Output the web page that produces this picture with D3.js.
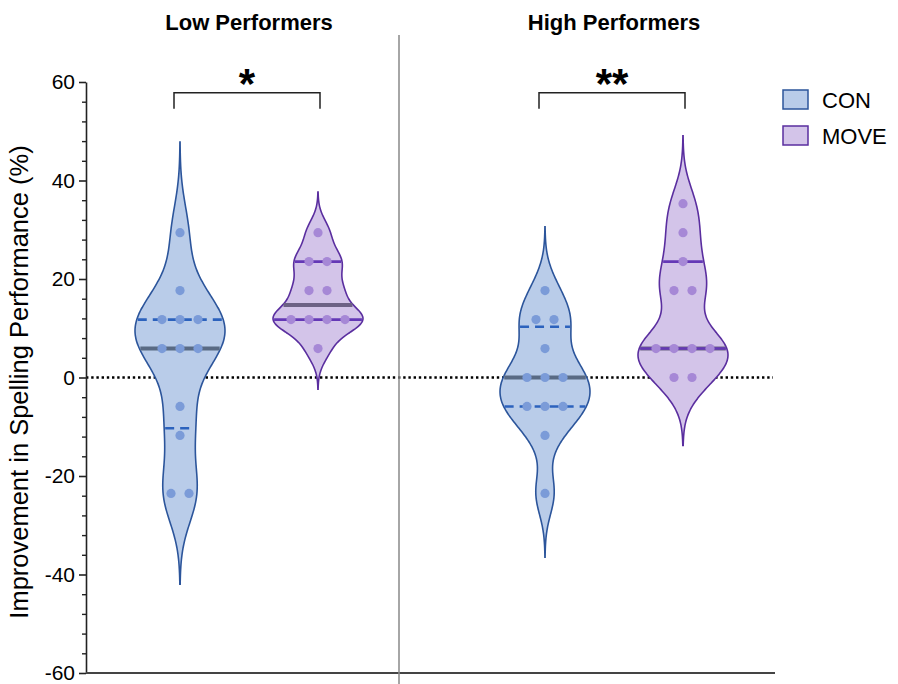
<!DOCTYPE html>
<html>
<head>
<meta charset="utf-8">
<script src="https://cdn.jsdelivr.net/npm/d3@7/dist/d3.min.js"></script>
<style>
  body { margin: 0; background: #fff; }
  svg { display: block; font-family: "Liberation Sans", Arial, sans-serif; }
</style>
</head>
<body>
<div id="chart"></div>
<script>
// ---- data ----
const groups = ['Low Performers', 'High Performers'];
const conditions = ['CON', 'MOVE'];
const significance = ['*', '**'];
const yTicks = [-60, -40, -20, 0, 20, 40, 60];

const lowCon   = [29.41, 17.65, 11.76, 11.76, 11.76, 5.88, 5.88, 5.88, -5.88, -11.76, -23.53, -23.53];
const lowMove  = [29.41, 23.53, 23.53, 17.65, 17.65, 11.76, 11.76, 11.76, 11.76, 5.88];
const highCon  = [17.65, 11.76, 11.76, 5.88, 0, 0, 0, -5.88, -5.88, -5.88, -11.76, -23.53];
const highMove = [35.29, 29.41, 23.53, 17.65, 17.65, 5.88, 5.88, 5.88, 5.88, 0, 0];

const series = [
  { group: groups[0], cond: 'CON',  values: lowCon },
  { group: groups[0], cond: 'MOVE', values: lowMove },
  { group: groups[1], cond: 'CON',  values: highCon },
  { group: groups[1], cond: 'MOVE', values: highMove },
];

const STYLE = {
  CON:  { fill: '#b9cce9', stroke: '#2c559b', dot: '#7b9bd8', quart: '#2c62bd', median: '#596a84', dash: '9,6' },
  MOVE: { fill: '#d3c4e9', stroke: '#5a2e9f', dot: '#a688d6', quart: '#6438b6', median: '#6d6285', dash: null },
};

const width = 898, height = 684;
const plot = { left: 86, right: 775, top: 82, bottom: 673 };
const HALF_WIDTH = 45;   // max half-width of every violin
const DOT_STEP = 18;     // horizontal spacing of tied dots

const svg = d3.select('#chart').append('svg')
  .attr('width', width)
  .attr('height', height);

const y = d3.scaleLinear().domain([-60, 60]).range([plot.bottom, plot.top]);
const xGroup = d3.scalePoint().domain(groups).range([249, 614]);
const xCond = d3.scalePoint().domain(conditions).range([-69, 69]);
const cx = d => xGroup(d.group) + xCond(d.cond);

// quartiles the GraphPad way: position (n+1)p
function quantileN1(sorted, p) {
  const n = sorted.length;
  const pos = (n + 1) * p;
  const lo = Math.floor(pos);
  if (lo < 1) return sorted[0];
  if (lo >= n) return sorted[n - 1];
  return sorted[lo - 1] + (pos - lo) * (sorted[lo] - sorted[lo - 1]);
}

function gauss(u) { return Math.exp(-0.5 * u * u); }

function buildViolin(s) {
  const vals = s.values.slice().sort((a, b) => a - b);
  const h = 0.38 * d3.deviation(vals);
  const dens = v => d3.sum(vals, d => gauss((v - d) / h));
  const lo = vals[0] - 3 * h, hi = vals[vals.length - 1] + 3 * h;
  const pts = d3.range(0, 201).map(i => {
    const v = lo + (hi - lo) * i / 200;
    return [v, dens(v)];
  });
  const maxD = d3.max(pts, p => p[1]);
  const w = d3.scaleLinear().domain([0, maxD]).range([0, HALF_WIDTH]);
  return {
    pts, w, dens,
    median: quantileN1(vals, 0.5),
    q1: quantileN1(vals, 0.25),
    q3: quantileN1(vals, 0.75),
  };
}

// ---- zero reference line ----
svg.append('line')
  .attr('x1', plot.left).attr('x2', 773)
  .attr('y1', y(0)).attr('y2', y(0))
  .attr('stroke', '#000')
  .attr('stroke-width', 2.6)
  .attr('stroke-dasharray', '2.4,2.8');

// ---- violins ----
series.forEach(s => {
  const st = STYLE[s.cond];
  const v = buildViolin(s);
  const x0 = cx(s);
  const g = svg.append('g');

  const area = d3.area()
    .curve(d3.curveBasis)
    .y(p => y(p[0]))
    .x0(p => x0 - v.w(p[1]))
    .x1(p => x0 + v.w(p[1]));

  g.append('path')
    .datum(v.pts)
    .attr('d', area)
    .attr('fill', st.fill)
    .attr('stroke', st.stroke)
    .attr('stroke-width', 1.6);

  const hLine = (val, color, sw, dash) => {
    const hw = v.w(v.dens(val)) - 1;
    g.append('line')
      .attr('x1', x0 - hw).attr('x2', x0 + hw)
      .attr('y1', y(val)).attr('y2', y(val))
      .attr('stroke', color)
      .attr('stroke-width', sw)
      .attr('stroke-dasharray', dash);
  };
  hLine(v.median, st.median, 4, null);
  hLine(v.q1, st.quart, 2.6, st.dash);
  hLine(v.q3, st.quart, 2.6, st.dash);

  // dots, ties spread horizontally
  const counts = d3.rollup(s.values, a => a.length, d => d);
  const dots = [];
  counts.forEach((k, val) => {
    for (let i = 0; i < k; i++) dots.push({ val, off: (i - (k - 1) / 2) * DOT_STEP });
  });
  g.selectAll('circle')
    .data(dots)
    .enter().append('circle')
    .attr('cx', d => x0 + d.off)
    .attr('cy', d => y(d.val))
    .attr('r', 4.6)
    .attr('fill', st.dot);
});

// ---- axes ----
const minorTicks = d3.range(-60, 61, 4).filter(t => t % 20 !== 0);
svg.append('g')
  .attr('transform', `translate(${plot.left},0)`)
  .call(d3.axisLeft(y).tickValues(minorTicks).tickSize(4).tickFormat(''))
  .call(g => g.select('.domain').remove())
  .call(g => g.selectAll('line').attr('stroke', '#222').attr('stroke-width', 1.4));

svg.append('g')
  .attr('transform', `translate(${plot.left},0)`)
  .call(d3.axisLeft(y).tickValues(yTicks).tickSize(7).tickSizeOuter(0).tickPadding(4)
    .tickFormat(d => String(d)))
  .call(g => g.select('.domain').attr('stroke', '#222').attr('stroke-width', 1.6))
  .call(g => g.selectAll('line').attr('stroke', '#222').attr('stroke-width', 1.6))
  .call(g => g.selectAll('text')
    .attr('font-size', 21)
    .attr('fill', '#000')
    .attr('font-family', '"Liberation Sans", Arial, sans-serif'));

// bottom axis line
svg.append('line')
  .attr('x1', plot.left).attr('x2', plot.right)
  .attr('y1', plot.bottom).attr('y2', plot.bottom)
  .attr('stroke', '#444').attr('stroke-width', 2);

// group divider
svg.append('line')
  .attr('x1', 399).attr('x2', 399)
  .attr('y1', 35).attr('y2', height)
  .attr('stroke', '#888').attr('stroke-width', 1.5);

// y title
svg.append('text')
  .attr('transform', `translate(28,${(142 + 622) / 2}) rotate(-90)`)
  .attr('text-anchor', 'middle')
  .attr('font-size', 25.5)
  .text('Improvement in Spelling Performance (%)');

// group titles, brackets, stars
groups.forEach((gName, i) => {
  const xc = xGroup(gName) + xCond('CON');
  const xm = xGroup(gName) + xCond('MOVE');
  svg.append('text')
    .attr('x', xGroup(gName)).attr('y', 30)
    .attr('text-anchor', 'middle')
    .attr('font-size', 22)
    .attr('font-weight', 'bold')
    .text(gName);

  const by = y(57.8);
  svg.append('path')
    .attr('d', `M${xc - 6},${by + 16}V${by}H${xm + 2}V${by + 16}`)
    .attr('fill', 'none')
    .attr('stroke', '#222')
    .attr('stroke-width', 1.5);

  svg.append('text')
    .attr('x', (xc - 6 + xm + 2) / 2).attr('y', 98)
    .attr('text-anchor', 'middle')
    .attr('font-size', 42)
    .attr('font-weight', 'bold')
    .text(significance[i]);
});

// legend
const legend = svg.append('g').attr('transform', 'translate(783,90)');
conditions.forEach((c, i) => {
  const row = legend.append('g').attr('transform', `translate(0,${i * 36})`);
  row.append('rect')
    .attr('width', 25).attr('height', 19)
    .attr('fill', STYLE[c].fill)
    .attr('stroke', STYLE[c].stroke)
    .attr('stroke-width', 1.5);
  row.append('text')
    .attr('x', 39).attr('y', 17.5)
    .attr('font-size', 22)
    .text(c);
});
</script>
</body>
</html>
